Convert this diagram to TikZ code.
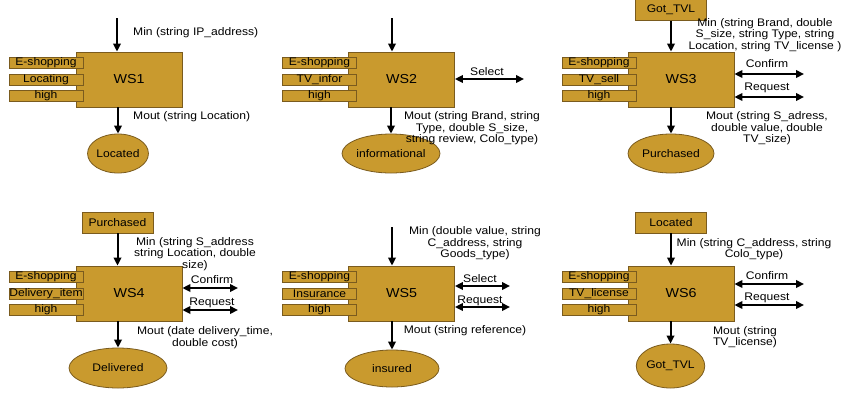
\documentclass[tikz,border=0pt]{standalone}
\usepackage{fontspec}
\setmainfont{Liberation Sans}[FakeStretch=1.1]
\usetikzlibrary{arrows.meta,shapes.geometric}
\definecolor{gold}{HTML}{C99A2E}
\definecolor{goldline}{HTML}{7A5B1E}
\begin{document}
\begin{tikzpicture}[x=1pt,y=-1pt,
  ws/.style={draw=goldline,fill=gold,line width=0.8pt,minimum width=106pt,minimum height=55pt,inner sep=0pt,font=\fontsize{13}{14}\selectfont},
  tag/.style={draw=goldline,fill=gold,line width=0.8pt,minimum width=74pt,minimum height=11pt,inner sep=0pt,font=\fontsize{11}{11}\selectfont},
  src/.style={draw=goldline,fill=gold,line width=0.8pt,minimum width=71pt,minimum height=21pt,inner sep=0pt,font=\fontsize{11}{12}\selectfont},
  ell/.style={ellipse,draw=goldline,fill=gold,line width=0.8pt,inner sep=0pt,font=\fontsize{11}{12}\selectfont},
  lbl/.style={inner sep=0pt,align=center,font=\fontsize{11}{11.6}\selectfont},
  arr/.style={line width=2pt,-{Triangle[length=8pt,width=7.5pt]}},
  dbl/.style={line width=2pt,{Triangle[length=8pt,width=7.5pt]}-{Triangle[length=8pt,width=7.5pt]}}
]
\useasboundingbox (0,0) rectangle (842,392);

% ---------------- WS1 ----------------
\node[ws] (ws1) at (129,79.5) {WS1};
\node[tag] (t1a) at (46,63) {E-shopping};
\node[tag] (t1b) at (46,79.5) {Locating};
\node[tag] (t1c) at (46,96) {high};
\coordinate (in1) at (117,18);
\draw[arr] (in1) -- (in1 |- ws1.north);
\node[ell,minimum width=57pt,minimum height=39pt] (e1) at (118,153.5) {Located};
\draw[arr] (ws1.south -| e1.north) -- (e1.north);
\node[lbl,anchor=west] (m1) at (133,33) {Min (string IP\_address)};
\node[lbl,anchor=west] (o1) at (133,117) {Mout (string Location)};

% ---------------- WS2 ----------------
\node[ws] (ws2) at (401.5,79.5) {WS2};
\node[tag] (t2a) at (319.5,63) {E-shopping};
\node[tag] (t2b) at (319.5,79.5) {TV\_infor};
\node[tag] (t2c) at (319.5,96) {high};
\coordinate (in2) at (392,18);
\draw[arr] (in2) -- (in2 |- ws2.north);
\coordinate (s2) at (524,79);
\draw[dbl] (ws2.east |- s2) -- (s2);
\node[lbl] (ls2) at (487,72) {Select};
\node[ell,minimum width=86pt,minimum height=39pt] (e2) at (391,153.5) {informational};
\draw[arr] (ws2.south -| e2.north) -- (e2.north);
\node[lbl] (o2) at (472,128.5) {Mout (string Brand, string\\Type, double S\_size,\\string review, Colo\_type)};

% ---------------- WS3 ----------------
\node[src] (g3) at (671,10) {Got\_TVL};
\node[ws] (ws3) at (681,79.5) {WS3};
\node[tag] (t3a) at (599,63) {E-shopping};
\node[tag] (t3b) at (599,79.5) {TV\_sell};
\node[tag] (t3c) at (599,96) {high};
\draw[arr] (g3.south) -- (g3.south |- ws3.north);
\node[lbl] (m3) at (765,35) {Min (string Brand, double\\S\_size, string Type, string\\Location, string TV\_license )};
\coordinate (c3) at (804,74);
\draw[dbl] (ws3.east |- c3) -- (c3);
\node[lbl] (lc3) at (767,64) {Confirm};
\coordinate (r3) at (804,97);
\draw[dbl] (ws3.east |- r3) -- (r3);
\node[lbl] (lr3) at (767,88) {Request};
\node[ell,minimum width=86pt,minimum height=39pt] (e3) at (671,153.5) {Purchased};
\draw[arr] (ws3.south -| e3.north) -- (e3.north);
\node[lbl] (o3) at (767,128.5) {Mout (string S\_adress,\\double value, double\\TV\_size)};

% ---------------- WS4 ----------------
\node[src] (p4) at (117.5,222.5) {Purchased};
\node[ws] (ws4) at (129,293.5) {WS4};
\node[tag] (t4a) at (46,277) {E-shopping};
\node[tag] (t4b) at (46,293.5) {Delivery\_item};
\node[tag] (t4c) at (46,310) {high};
\draw[arr] (p4.south) -- (p4.south |- ws4.north);
\node[lbl] (m4) at (195,254) {Min (string S\_address\\string Location, double\\size)};
\coordinate (c4) at (238,288);
\draw[dbl] (ws4.east |- c4) -- (c4);
\node[lbl] (lc4) at (212,280) {Confirm};
\coordinate (r4) at (238,310);
\draw[dbl] (ws4.east |- r4) -- (r4);
\node[lbl] (lr4) at (212,303) {Request};
\node[ell,minimum width=98pt,minimum height=40pt] (e4) at (118,368) {Delivered};
\draw[arr] (ws4.south -| e4.north) -- (e4.north);
\node[lbl] (o4) at (205,337.5) {Mout (date delivery\_time,\\double cost)};

% ---------------- WS5 ----------------
\node[ws] (ws5) at (401.5,293.5) {WS5};
\node[tag] (t5a) at (319.5,277) {E-shopping};
\node[tag] (t5b) at (319.5,293.5) {Insurance};
\node[tag] (t5c) at (319.5,310) {high};
\coordinate (in5) at (392,227);
\draw[arr] (in5) -- (in5 |- ws5.north);
\node[lbl] (m5) at (475,243.5) {Min (double value, string\\C\_address, string\\Goods\_type)};
\coordinate (s5) at (510,286);
\draw[dbl] (ws5.east |- s5) -- (s5);
\node[lbl] (ls5) at (480,279) {Select};
\coordinate (r5) at (510,307);
\draw[dbl] (ws5.east |- r5) -- (r5);
\node[lbl] (lr5) at (480,301) {Request};
\node[ell,minimum width=94pt,minimum height=37pt] (e5) at (392,368.5) {insured};
\draw[arr] (ws5.south -| e5.north) -- (e5.north);
\node[lbl] (o5) at (465,331) {Mout (string reference)};

% ---------------- WS6 ----------------
\node[src] (l6) at (671,222.5) {Located};
\node[ws] (ws6) at (681,293.5) {WS6};
\node[tag] (t6a) at (599,277) {E-shopping};
\node[tag] (t6b) at (599,293.5) {TV\_license};
\node[tag] (t6c) at (599,310) {high};
\draw[arr] (l6.south) -- (l6.south |- ws6.north);
\node[lbl] (m6) at (754,249) {Min (string C\_address, string\\Colo\_type)};
\coordinate (c6) at (804,284);
\draw[dbl] (ws6.east |- c6) -- (c6);
\node[lbl] (lc6) at (767,276) {Confirm};
\coordinate (r6) at (804,305);
\draw[dbl] (ws6.east |- r6) -- (r6);
\node[lbl] (lr6) at (767,298) {Request};
\node[ell,minimum width=57pt,minimum height=44pt] (e6) at (670.5,366) {Got\_TVL};
\draw[arr] (ws6.south -| e6.north) -- (e6.north);
\node[lbl] (o6) at (745,337) {Mout (string\\TV\_license)};
\end{tikzpicture}
\end{document}
